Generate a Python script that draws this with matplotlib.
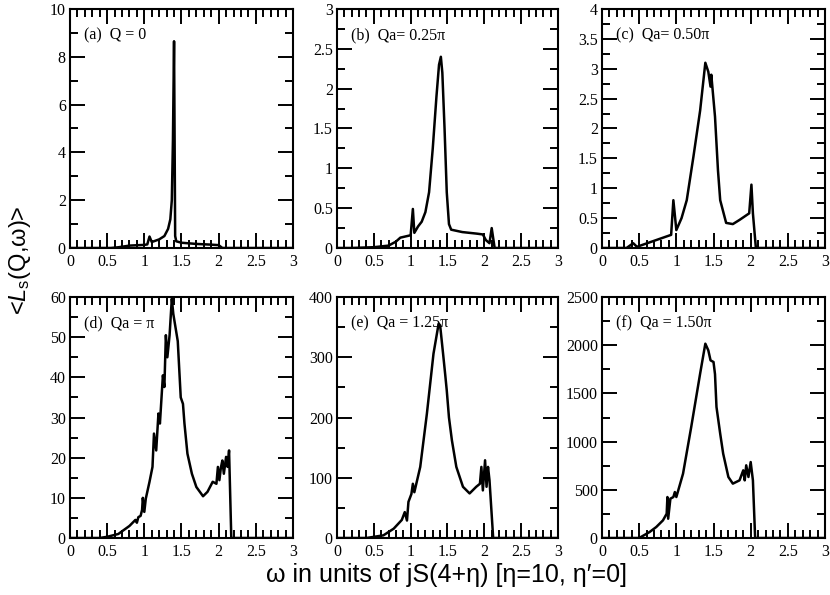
import matplotlib
matplotlib.use('Agg')
from matplotlib import pyplot
from matplotlib.ticker import MultipleLocator, FormatStrFormatter

pyplot.rcParams['mathtext.fontset'] = 'custom'
pyplot.rcParams['mathtext.rm'] = 'Liberation Sans'
pyplot.rcParams['mathtext.it'] = 'Liberation Sans:italic'

# (a) Q = 0
wa = [0.0, 0.55, 0.65, 0.8, 1.0, 1.04, 1.07, 1.1, 1.2, 1.27, 1.32, 1.35, 1.37, 1.385, 1.40, 1.415, 1.43, 1.5, 1.7, 1.9, 2.0, 2.05, 3.0]
La = [0.0, 0.0, 0.03, 0.1, 0.13, 0.15, 0.48, 0.25, 0.36, 0.5, 0.8, 1.2, 2.0, 4.5, 8.65, 0.5, 0.28, 0.22, 0.17, 0.14, 0.12, 0.0, 0.0]

# (b) Qa = 0.25pi
wb = [0.0, 0.2, 0.5, 0.7, 0.8, 0.86, 1.0, 1.03, 1.05, 1.1, 1.15, 1.2, 1.25, 1.3, 1.35, 1.385, 1.41, 1.43, 1.46, 1.49, 1.52, 1.55, 1.7, 1.9, 1.98, 2.02, 2.07, 2.10, 2.14, 3.0]
Lb = [0.0, 0.0, 0.01, 0.03, 0.08, 0.13, 0.16, 0.49, 0.19, 0.27, 0.33, 0.45, 0.7, 1.25, 1.9, 2.3, 2.4, 2.2, 1.5, 0.7, 0.3, 0.23, 0.2, 0.18, 0.17, 0.1, 0.06, 0.25, 0.0, 0.0]

# (c) Qa = 0.50pi
wc = [0.0, 0.33, 0.42, 0.47, 0.7, 0.93, 0.96, 1.0, 1.07, 1.14, 1.23, 1.32, 1.39, 1.43, 1.46, 1.47, 1.52, 1.56, 1.59, 1.67, 1.76, 1.85, 1.98, 2.01, 2.03, 2.07, 3.0]
Lc = [0.0, 0.0, 0.08, 0.02, 0.12, 0.22, 0.8, 0.3, 0.5, 0.8, 1.53, 2.3, 3.1, 2.95, 2.7, 2.9, 2.2, 1.3, 0.8, 0.42, 0.4, 0.47, 0.58, 1.06, 0.58, 0.0, 0.0]

# (d) Qa = pi
wd = [0.0, 0.4, 0.5, 0.65, 0.8, 0.88, 0.9, 0.92, 0.95, 0.97, 0.98, 1.0, 1.02, 1.07, 1.11, 1.13, 1.16, 1.19, 1.21, 1.25, 1.27, 1.29, 1.31, 1.34, 1.37, 1.39,
      1.45, 1.49, 1.52, 1.54, 1.58, 1.64, 1.70, 1.79, 1.85, 1.92, 1.97, 1.99, 2.01, 2.03, 2.05, 2.07, 2.10, 2.12, 2.14, 2.17, 3.0]
Ld = [0.0, 0.0, 0.3, 1.0, 3.0, 4.5, 3.8, 5.2, 5.5, 7.0, 10.0, 6.5, 9.8, 14.0, 17.7, 26.0, 21.8, 31.0, 28.5, 40.5, 37.6, 50.5, 45.0, 50.5, 59.6, 55.8,
      49.0, 35.0, 33.4, 28.5, 21.0, 16.0, 12.7, 10.4, 11.5, 14.0, 13.5, 17.7, 14.4, 17.5, 19.3, 16.0, 20.2, 17.7, 21.8, 0.0, 0.0]

# (e) Qa = 1.25pi
we = [0.0, 0.4, 0.63, 0.77, 0.88, 0.92, 0.95, 0.97, 1.01, 1.03, 1.05, 1.13, 1.22, 1.31, 1.38, 1.40, 1.44, 1.47, 1.49, 1.52, 1.56, 1.62, 1.71, 1.80,
      1.89, 1.94, 1.96, 1.98, 2.01, 2.03, 2.05, 2.07, 2.12, 3.0]
Le = [0.0, 0.0, 4.4, 15.5, 30.0, 43.0, 29.0, 60.0, 73.0, 90.0, 76.0, 118.0, 206.0, 306.0, 356.0, 353.0, 306.0, 270.0, 245.0, 200.0, 162.0, 118.0, 85.0, 74.0,
      85.0, 90.0, 118.0, 79.0, 129.0, 85.0, 118.0, 96.0, 0.0, 0.0]

# (f) Qa = 1.50pi
wf = [0.0, 0.5, 0.64, 0.73, 0.82, 0.87, 0.88, 0.89, 0.92, 0.96, 0.98, 1.0, 1.09, 1.20, 1.32, 1.39, 1.43, 1.46, 1.50, 1.52, 1.54, 1.59, 1.63, 1.70,
      1.76, 1.85, 1.90, 1.92, 1.94, 1.97, 2.0, 2.03, 2.06, 3.0]
Lf = [0.0, 0.0, 62.0, 114.0, 183.0, 252.0, 425.0, 200.0, 408.0, 425.0, 477.0, 425.0, 667.0, 1151.0, 1705.0, 2016.0, 1947.0, 1843.0, 1826.0, 1700.0, 1359.0,
      1082.0, 875.0, 633.0, 564.0, 598.0, 702.0, 598.0, 754.0, 633.0, 788.0, 598.0, 0.0, 0.0]

panels = [
    (wa, La, '(a)  Q = 0', 10, 2),
    (wb, Lb, '(b)  Qa= 0.25\u03c0', 3, 0.5),
    (wc, Lc, '(c)  Qa= 0.50\u03c0', 4, 0.5),
    (wd, Ld, '(d)  Qa = \u03c0', 60, 10),
    (we, Le, '(e)  Qa = 1.25\u03c0', 400, 100),
    (wf, Lf, '(f)  Qa = 1.50\u03c0', 2500, 500),
]

# axes boxes in figure fraction [left, bottom, width, height]
lefts = [0.0843, 0.4060, 0.7253]
widths = [0.2687, 0.2663, 0.2687]
bottoms = [0.5832, 0.0958]
heights = [0.4017, 0.4050]

fig = pyplot.figure(figsize=(8.3, 5.95), dpi=100)

for i, (w, L, lab, ymax, ymaj) in enumerate(panels):
    r, c = divmod(i, 3)
    ax = fig.add_axes([lefts[c], bottoms[r], widths[c], heights[r]])
    ax.plot(w, L, '-', color='k', lw=1.8)
    ax.set_xlim(0, 3)
    ax.set_ylim(0, ymax)
    ax.xaxis.set_major_locator(MultipleLocator(0.5))
    ax.xaxis.set_minor_locator(MultipleLocator(0.1))
    ax.yaxis.set_major_locator(MultipleLocator(ymaj))
    ax.yaxis.set_minor_locator(MultipleLocator(ymaj / 2.))
    ax.xaxis.set_major_formatter(FormatStrFormatter('%g'))
    ax.yaxis.set_major_formatter(FormatStrFormatter('%g'))
    ax.tick_params(which='both', direction='in', top=True, right=True, width=1.4, labelsize=11.5)
    ax.tick_params(which='major', length=10.5)
    ax.tick_params(which='minor', length=5.5)
    ax.tick_params(axis='x', pad=4)
    ax.tick_params(axis='y', pad=3)
    for t in ax.get_xticklabels() + ax.get_yticklabels():
        t.set_fontfamily('Liberation Serif')
    for s in ax.spines.values():
        s.set_linewidth(1.5)
    ax.text(0.065, 0.89, lab, transform=ax.transAxes, ha='left', va='center',
            fontsize=11.5, family=['Liberation Serif', 'DejaVu Serif'])

fig.text(0.538, 0.034, '\u03c9 in units of jS(4+\u03b7) [\u03b7=10, \u03b7\u2032=0]',
         ha='center', va='center', fontsize=18, family=['Liberation Sans', 'DejaVu Sans'])
fig.text(0.024, 0.563, '<$\\mathit{L}_{\\mathrm{s}}$(Q,\u03c9)>',
         ha='center', va='center', rotation=90, fontsize=17, family=['Liberation Sans', 'DejaVu Sans'])

fig.savefig('out.png', dpi=100)
